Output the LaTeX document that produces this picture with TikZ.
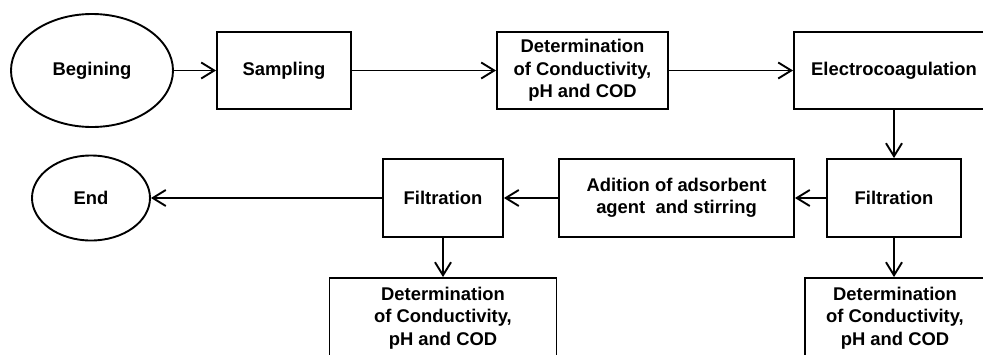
\documentclass[tikz,border=0pt]{standalone}
\usepackage{fontspec}
\setmainfont{Liberation Sans}
\usetikzlibrary{shapes.geometric,arrows.meta}

\tikzset{
        txt/.style={font=\fontsize{18.4}{22.5}\selectfont\bfseries, align=center},
        stepbox/.style={txt, draw, line width=1.9pt, rectangle, inner sep=0pt, minimum height=77pt},
        terminal/.style={txt, draw, line width=1.9pt, ellipse, inner sep=0pt},
        flow/.style={draw, line width=1.9pt, -{Straight Barb[length=13pt,width=16pt]}}
}

\begin{document}
\begin{tikzpicture}
        \useasboundingbox (0pt, 0pt) rectangle (983pt, -354pt);
        \clip (0pt, 0pt) rectangle (983pt, -354pt);
        \node (v0) [terminal, minimum width=162pt, minimum height=113pt] at (92.0pt, -70.5pt) {Begining};
        \node (v1) [stepbox, minimum width=134pt] at (284.0pt, -70.5pt) {Sampling};
        \node (v2) [stepbox, minimum width=171pt] at (582.5pt, -70.5pt) {Determination\\of Conductivity,\\pH and COD};
        \node (v3) [stepbox, minimum width=200pt] at (894.0pt, -70.5pt) {Electrocoagulation};
        \node (v4) [stepbox, minimum width=134pt, minimum height=78pt] at (894.0pt, -198.0pt) {Filtration};
        \node (v5) [stepbox, minimum width=235pt, minimum height=78pt] at (676.5pt, -198.0pt) {Adition of adsorbent\\agent~ and stirring};
        \node (v6) [stepbox, minimum width=120pt, minimum height=78pt] at (443.0pt, -198.0pt) {Filtration};
        \node (v7) [terminal, minimum width=118pt, minimum height=85pt] at (91.0pt, -198.0pt) {End};
        \node (v8) [stepbox, minimum width=227pt, minimum height=80pt] at (443.0pt, -318.0pt) {Determination\\of Conductivity,\\pH and COD};
        \node (v9) [stepbox, minimum width=180pt, minimum height=80pt] at (895.0pt, -318.0pt) {Determination\\of Conductivity,\\pH and COD};
        \path [flow] (v0) -- (v1);
        \path [flow] (v1) -- (v2);
        \path [flow] (v2) -- (v3);
        \path [flow] (v3) -- (v4);
        \path [flow] (v4) -- (v5);
        \path [flow] (v5) -- (v6);
        \path [flow] (v6) -- (v7);
        \path [flow] (v6) -- (v8);
        \path [flow] (v4.south) -- (v4.south |- v9.north);
\end{tikzpicture}
\end{document}
